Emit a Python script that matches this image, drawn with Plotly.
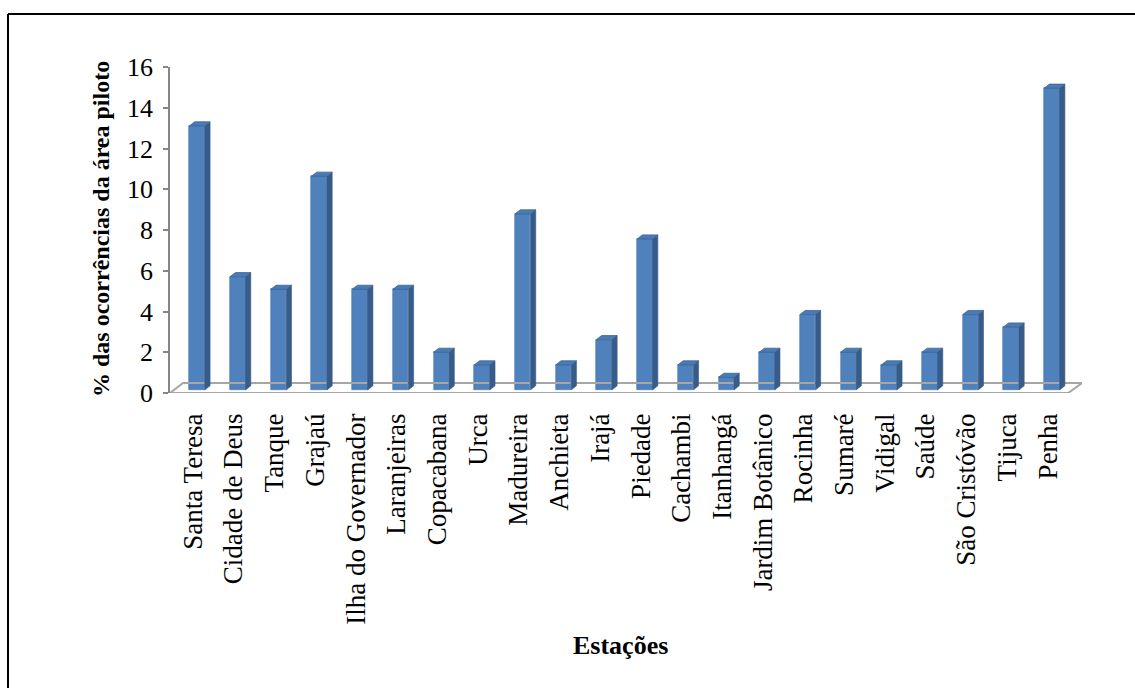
import plotly.graph_objects as go

# Estações e percentual das ocorrências na área piloto
estacoes = [
    "Santa Teresa", "Cidade de Deus", "Tanque", "Grajaú", "Ilha do Governador",
    "Laranjeiras", "Copacabana", "Urca", "Madureira", "Anchieta", "Irajá",
    "Piedade", "Cachambi", "Itanhangá", "Jardim Botânico", "Rocinha", "Sumaré",
    "Vidigal", "Saúde", "São Cristóvão", "Tijuca", "Penha",
]
percentuais = [
    12.96, 5.56, 4.94, 10.49, 4.94, 4.94, 1.85, 1.23, 8.64, 1.23, 2.47,
    7.41, 1.23, 0.62, 1.85, 3.70, 1.85, 1.23, 1.85, 3.70, 3.09, 14.81,
]
y_ticks = [0, 2, 4, 6, 8, 10, 12, 14, 16]

FRONT = "#4F81BD"
SIDE = "#375C89"
TOP = "#4A7BB7"
EDGE = "#3B6494"
FONT = "Liberation Serif"

# pseudo-3D geometry (category / value units)
W = 0.38        # front face width
SHIFT = 0.10    # front face offset from category centre
BASE = 0.15     # bars rise slightly above the front floor edge
DX, DY = 0.13, 0.20  # depth offset

pos = list(range(len(estacoes)))
xc = [p + SHIFT for p in pos]

side_x, side_y, top_x, top_y = [], [], [], []
for c, v in zip(xc, percentuais):
    xl, xr = c - W / 2, c + W / 2
    yb, yt = BASE, BASE + v
    side_x += [xr, xr + DX, xr + DX, xr, xr, None]
    side_y += [yb, yb + DY, yt + DY, yt, yb, None]
    top_x += [xl, xl + DX, xr + DX, xr, xl, None]
    top_y += [yt, yt + DY, yt + DY, yt, yt, None]

fig = go.Figure()

# floor of the 3D plot
X0F, X1F = -0.565, 21.5
X0B, X1B = -0.245, 21.84
YB = 0.49
fig.add_trace(go.Scatter(
    x=[X0F, X1F, X1B, X0B, X0F], y=[0, 0, YB, YB, 0],
    mode="lines", line=dict(color="#A6A6A6", width=2),
    hoverinfo="skip", showlegend=False,
))
fig.add_trace(go.Scatter(
    x=[X0F + 0.05, X1F - 0.05], y=[-0.08, -0.08],
    mode="lines", line=dict(color="#D9D9D9", width=1.5),
    hoverinfo="skip", showlegend=False,
))

fig.add_trace(go.Bar(
    x=xc, y=percentuais, base=BASE, width=W,
    marker=dict(color=FRONT, line=dict(color="#4576B0", width=0.6)),
    showlegend=False, hovertext=estacoes,
))
fig.add_trace(go.Scatter(
    x=side_x, y=side_y, mode="lines", fill="toself", fillcolor=SIDE,
    line=dict(color=SIDE, width=0.6), hoverinfo="skip", showlegend=False,
))
fig.add_trace(go.Scatter(
    x=top_x, y=top_y, mode="lines", fill="toself", fillcolor=TOP,
    line=dict(color=EDGE, width=0.8), hoverinfo="skip", showlegend=False,
))

L, R, T, B = 170, 1082, 67, 393
PW, PH = R - L, B - T


def px(xpix):
    return (xpix - L) / PW


def py(ypix):
    return (B - ypix) / PH


fig.update_layout(
    width=1135, height=688,
    margin=dict(l=L, r=1135 - R, t=T, b=688 - B, autoexpand=False),
    paper_bgcolor="white", plot_bgcolor="white",
    font=dict(family=FONT, color="black", size=26),
    bargap=0,
    xaxis=dict(
        range=[X0F, X1B], tickmode="array", tickvals=pos, ticktext=estacoes,
        tickangle=-90, ticks="", showline=False, showgrid=False, zeroline=False,
        tickfont=dict(family=FONT, size=27, color="black"),
        ticklabelstandoff=14,
    ),
    yaxis=dict(
        range=[0, 16], tickmode="array", tickvals=y_ticks,
        ticks="outside", ticklen=5, tickcolor="#868686", tickwidth=1.5,
        showline=True, linecolor="#868686", linewidth=1.5,
        showgrid=False, zeroline=False,
        tickfont=dict(family=FONT, size=26, color="black"),
        ticklabelstandoff=5,
    ),
    annotations=[
        dict(text="<b>% das ocorrências da área piloto</b>", xref="paper", yref="paper",
             x=px(101), y=py(229), xanchor="center", yanchor="middle",
             textangle=-90, showarrow=False,
             font=dict(family=FONT, size=24, color="black")),
        dict(text="<b>Estações</b>", xref="paper", yref="paper",
             x=px(620), y=py(645), xanchor="center", yanchor="middle",
             showarrow=False,
             font=dict(family=FONT, size=26, color="black")),
    ],
    shapes=[
        dict(type="line", xref="paper", yref="paper", x0=px(8), x1=px(1140),
             y0=py(14), y1=py(14), line=dict(color="black", width=2)),
        dict(type="line", xref="paper", yref="paper", x0=px(8), x1=px(8),
             y0=py(14), y1=py(700), line=dict(color="black", width=2)),
    ],
)

fig.write_html("out.html")
